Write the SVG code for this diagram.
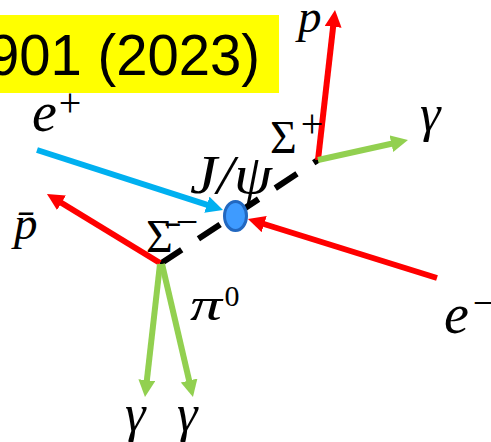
<svg xmlns="http://www.w3.org/2000/svg" width="491" height="442" viewBox="0 0 491 442">
<style>
.m{font-family:"Liberation Serif","DejaVu Serif",serif;font-style:italic;fill:#000}
.u{font-family:"Liberation Serif","DejaVu Serif",serif;fill:#000}
.red{stroke:#FF0000;stroke-width:6;fill:none}
.blue{stroke:#00B0F0;stroke-width:6;fill:none}
.green{stroke:#92D050;stroke-width:6;fill:none}
.dash{stroke:#000;stroke-width:6;stroke-dasharray:26 20;fill:none}
</style>
<defs>
<marker id="ar" markerUnits="userSpaceOnUse" markerWidth="18" markerHeight="18" refX="7" refY="8.5" orient="auto"><path d="M0,0 L17,8.5 L0,17 z" fill="#FF0000"/></marker>
<marker id="ab" markerUnits="userSpaceOnUse" markerWidth="18" markerHeight="18" refX="7" refY="8.5" orient="auto"><path d="M0,0 L17,8.5 L0,17 z" fill="#00B0F0"/></marker>
<marker id="ag" markerUnits="userSpaceOnUse" markerWidth="18" markerHeight="18" refX="7" refY="8.5" orient="auto"><path d="M0,0 L17,8.5 L0,17 z" fill="#92D050"/></marker>
</defs>
<rect width="491" height="442" fill="#fff"/>
<g id="title">
<rect x="0" y="15" width="279" height="78" fill="#FFFF00"/>
<text x="-12" y="75" font-family="'Liberation Sans',Arial,sans-serif" font-size="58" textLength="272" lengthAdjust="spacingAndGlyphs">901 (2023)</text>
</g>
<g id="connectors">
<line class="dash" x1="160" y1="264" x2="318" y2="160"/>
<line class="blue" x1="37" y1="150" x2="213.5" y2="206.9" marker-end="url(#ab)"/>
<line class="red" x1="437" y1="278" x2="257.5" y2="222" marker-end="url(#ar)"/>
<line class="red" x1="160" y1="263" x2="55.5" y2="199.2" marker-end="url(#ar)"/>
<line class="green" x1="160" y1="264" x2="146.1" y2="387.1" marker-end="url(#ag)"/>
<line class="green" x1="162" y1="264" x2="190.7" y2="387.3" marker-end="url(#ag)"/>
<line class="red" x1="318" y1="160" x2="333.9" y2="19.9" marker-end="url(#ar)"/>
<line class="green" x1="318" y1="160" x2="398.2" y2="142.2" marker-end="url(#ag)"/>
</g>
<g id="jpsi">
<ellipse cx="235.5" cy="216" rx="11" ry="14.5" fill="#3E9BFF" stroke="#2268C0" stroke-width="3"/>
<text class="m" x="190" y="193" font-size="54" textLength="82" lengthAdjust="spacingAndGlyphs">J/ψ</text>
</g>
<g id="eplus">
<text class="m" x="32" y="131" font-size="56">e</text>
<text class="u" x="70" y="116" font-size="40" text-anchor="middle">+</text>
</g>
<g id="eminus">
<text class="m" x="444" y="333" font-size="56">e</text>
<text class="u" x="484" y="316" font-size="40" text-anchor="middle">−</text>
</g>
<g id="sigmaplus">
<text class="u" x="270" y="153" font-size="46">Σ</text>
<text class="u" x="312" y="137" font-size="40" text-anchor="middle">+</text>
</g>
<g id="sigmaminus">
<text class="u" x="146" y="252" font-size="46">Σ̄</text>
<text class="u" x="187" y="235" font-size="40" text-anchor="middle">−</text>
</g>
<g id="proton">
<text class="m" x="298" y="32" font-size="47">p</text>
</g>
<g id="antiproton">
<text class="m" x="14" y="239" font-size="47">p̄</text>
</g>
<g id="gamma1">
<text class="m" x="420" y="131" font-size="52">γ</text>
</g>
<g id="pi0">
<text class="m" x="190" y="320" font-size="46" textLength="32" lengthAdjust="spacingAndGlyphs">π</text>
<text class="u" x="232" y="306" font-size="30" text-anchor="middle">0</text>
</g>
<g id="gamma2">
<text class="m" x="125" y="431" font-size="52">γ</text>
</g>
<g id="gamma3">
<text class="m" x="177" y="431" font-size="52">γ</text>
</g>
</svg>
